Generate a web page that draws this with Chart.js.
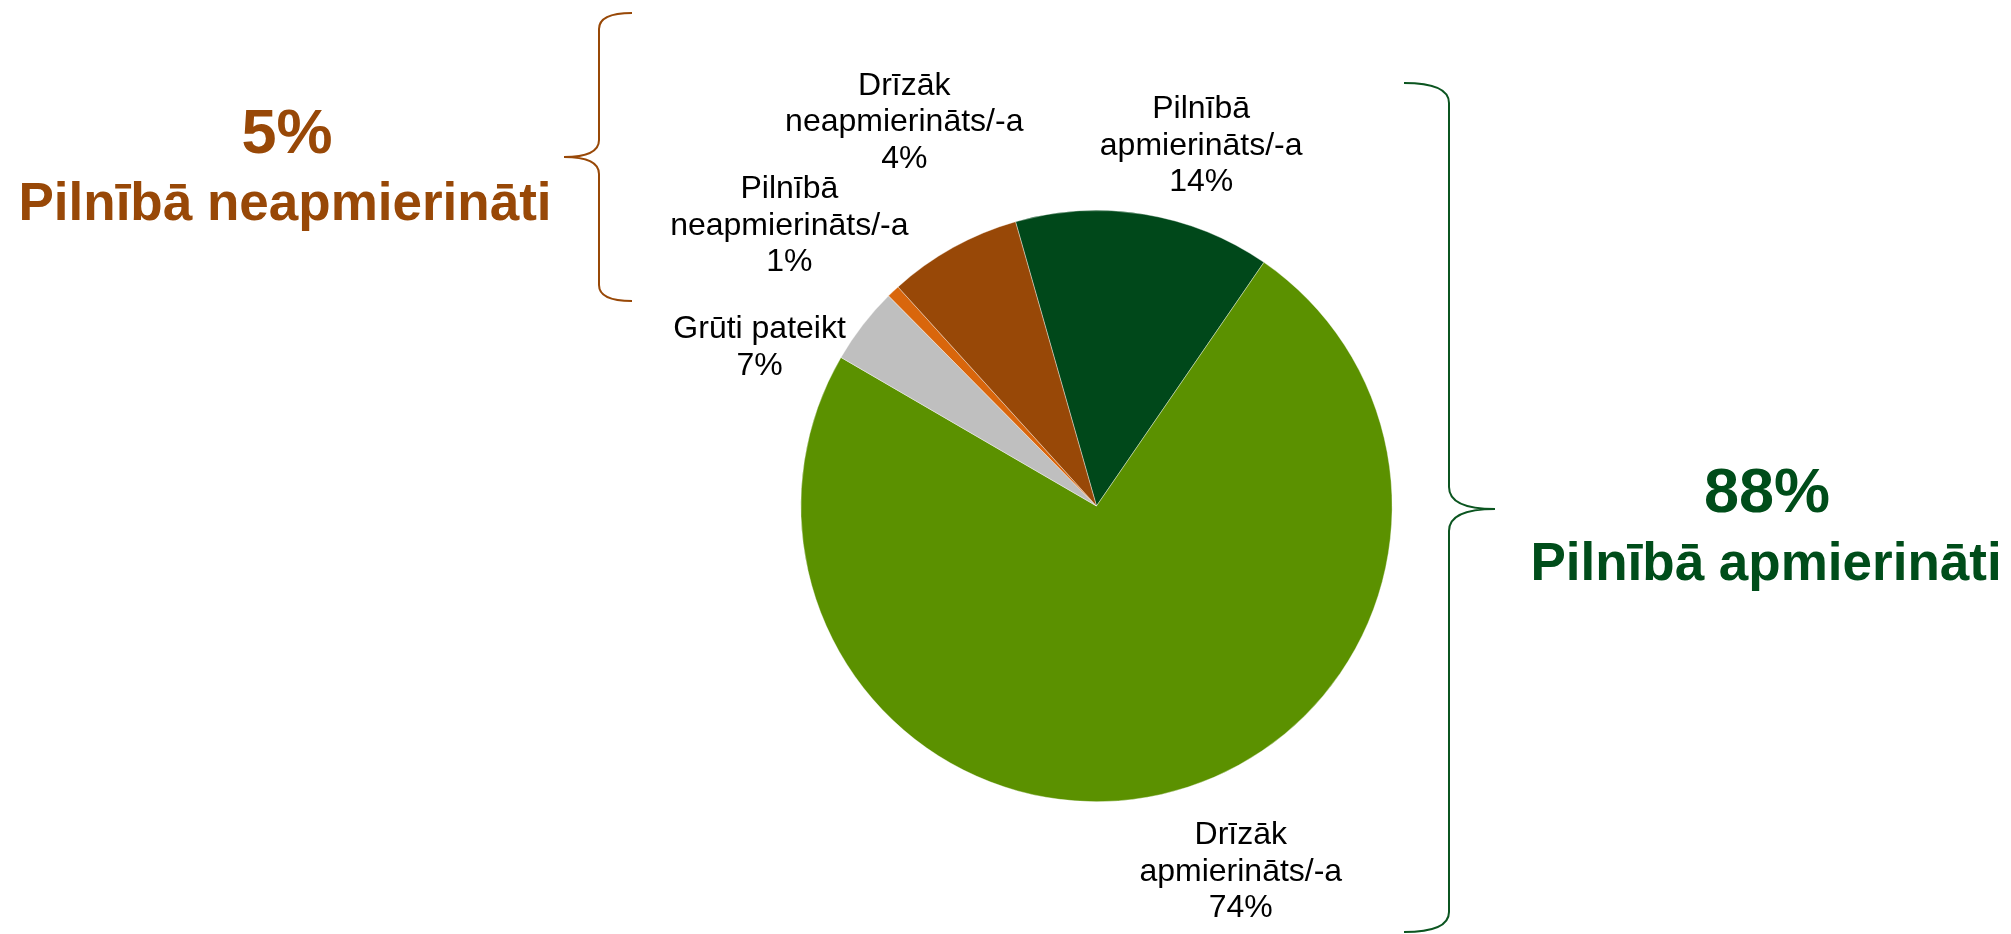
<!DOCTYPE html>
<html>
<head>
<meta charset="utf-8">
<script src="https://cdn.jsdelivr.net/npm/chart.js@4/dist/chart.umd.min.js"></script>
<style>
  html, body { margin: 0; background: #fff; }
  #wrap { width: 2011px; height: 934px; position: relative; }
</style>
</head>
<body>
<div id="wrap"><canvas id="pieChart"></canvas></div>
<script>
// slices, clockwise from the top
const categories = [
  "Pilnībā\napmierināts/-a",
  "Drīzāk\napmierināts/-a",
  "Grūti pateikt",
  "Pilnībā\nneapmierināts/-a",
  "Drīzāk\nneapmierināts/-a"
];
// slice sizes as drawn in the picture
const shares = [14.0, 73.8, 4.2, 0.7, 7.3];
// percentages as printed on the labels
const shownPct = ["14%", "74%", "7%", "1%", "4%"];
const sliceColors = ["#00481a", "#5b9100", "#bfbfbf", "#d9660c", "#984807"];

// the two summary groups
const groupTotals = ["5%", "88%"];
const groupNames = ["Pilnībā neapmierināti", "Pilnībā apmierināti"];
const groupColors = ["#984807", "#004d1a"];

const FONT = '"Liberation Sans", Arial, sans-serif';

// label shift from the radial spot (px)
const labelNudge = [[44, 8], [62, -3], [-40, 69], [-49, -10], [-10, -58]];

function drawBrace(ctx, xEnd, xSpine, xTip, yTop, yMid, yBot, rEnd, rMid, color) {
  ctx.save();
  ctx.strokeStyle = color;
  ctx.lineWidth = 2;
  ctx.beginPath();
  ctx.moveTo(xEnd, yTop);
  ctx.quadraticCurveTo(xSpine, yTop, xSpine, yTop + rEnd);
  ctx.lineTo(xSpine, yMid - rMid);
  ctx.quadraticCurveTo(xSpine, yMid, xTip, yMid);
  ctx.quadraticCurveTo(xSpine, yMid, xSpine, yMid + rMid);
  ctx.lineTo(xSpine, yBot - rEnd);
  ctx.quadraticCurveTo(xSpine, yBot, xEnd, yBot);
  ctx.stroke();
  ctx.restore();
}

const pieLabels = {
  id: "pieLabels",
  afterDraw(chart) {
    const ctx = chart.ctx;
    const meta = chart.getDatasetMeta(0);
    ctx.save();
    ctx.textAlign = "center";
    ctx.textBaseline = "alphabetic";
    ctx.fillStyle = "#000";
    ctx.font = "32px " + FONT;
    const lineH = 36.5;

    meta.data.forEach((arc, i) => {
      const p = arc.getProps(["x", "y", "startAngle", "endAngle", "outerRadius"], true);
      const mid = (p.startAngle + p.endAngle) / 2;
      const d = p.outerRadius * 1.27;
      const cx = p.x + Math.cos(mid) * d + labelNudge[i][0];
      const cy = p.y + Math.sin(mid) * d + labelNudge[i][1];
      const lines = categories[i].split("\n").concat(shownPct[i]);
      const first = cy - (lines.length - 1) / 2 * lineH + 11.5;
      lines.forEach((t, k) => ctx.fillText(t, cx, first + k * lineH));
    });

    // group summaries
    ctx.fillStyle = groupColors[0];
    ctx.font = "bold 63px " + FONT;
    ctx.fillText(groupTotals[0], 287, 153);
    ctx.font = "bold 53px " + FONT;
    ctx.fillText(groupNames[0], 285, 220);

    ctx.fillStyle = groupColors[1];
    ctx.font = "bold 63px " + FONT;
    ctx.fillText(groupTotals[1], 1767, 512);
    ctx.font = "bold 53px " + FONT;
    ctx.fillText(groupNames[1], 1766, 580);
    ctx.restore();

    drawBrace(ctx, 632, 599, 564, 13, 157, 301, 16, 17, groupColors[0]);
    drawBrace(ctx, 1404, 1449, 1495, 83, 509, 932, 20, 22, "#0b5520");
  }
};

const ctx = document.getElementById("pieChart").getContext("2d");
const pieChart = new Chart(ctx, {
  type: "pie",
  data: {
    labels: categories,
    datasets: [{
      data: shares,
      backgroundColor: sliceColors,
      borderColor: "rgba(255,255,255,0.5)",
      borderWidth: 0.75
    }]
  },
  options: {
    responsive: true,
    maintainAspectRatio: false,
    animation: false,
    rotation: -15.9,
    layout: { padding: { left: 600, right: 418, top: 210, bottom: 132 } },
    plugins: {
      legend: { display: false },
      tooltip: { enabled: false }
    }
  },
  plugins: [pieLabels]
});
</script>
</body>
</html>
